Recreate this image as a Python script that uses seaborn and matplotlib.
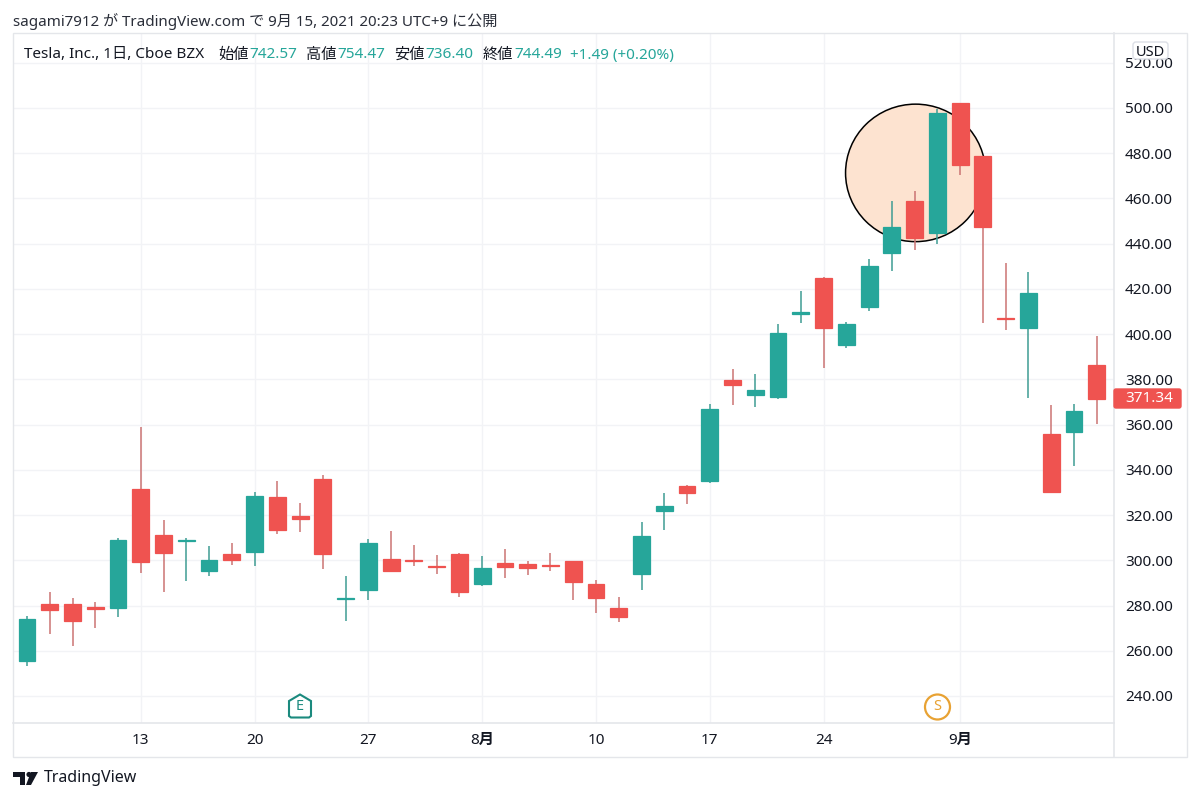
import matplotlib
matplotlib.use("Agg")
import matplotlib.pyplot as plt
from matplotlib.patches import Ellipse, FancyBboxPatch, Circle, Polygon, Rectangle
import numpy as np
import pandas as pd
import seaborn as sns

# Candles (one per trading day)
opens = [255.5, 280.8, 280.8, 279.4, 279.0, 331.7, 311.0, 308.5, 295.4, 302.7, 303.8, 327.9,
         319.8, 335.8, 283.0, 286.9, 300.7, 300.0, 297.5, 302.8, 289.7, 298.7, 298.4, 297.9,
         299.7, 289.4, 278.8, 294.0, 322.0, 332.9, 335.1, 379.6, 373.0, 372.3, 409.0, 425.0,
         395.0, 411.9, 435.8, 458.8, 444.6, 502.2, 478.6, 407.2, 402.8, 355.9, 356.8, 386.2]
highs = [275.4, 285.8, 283.5, 281.7, 309.7, 358.8, 317.8, 309.9, 306.2, 307.5, 330.2, 335.1,
         325.2, 337.8, 292.9, 309.4, 313.0, 306.9, 302.5, 303.4, 301.8, 305.2, 299.9, 303.4,
         299.9, 291.4, 283.8, 317.0, 329.9, 333.5, 369.2, 384.5, 382.2, 404.5, 419.0, 425.3,
         405.4, 433.1, 458.9, 463.4, 499.6, 502.4, 478.6, 431.5, 427.6, 368.7, 369.0, 399.0]
lows = [253.2, 267.3, 262.0, 270.2, 275.0, 294.2, 286.1, 291.0, 293.2, 298.0, 297.5, 311.5,
        312.4, 296.2, 273.2, 282.4, 294.7, 297.3, 294.1, 283.9, 288.6, 292.0, 293.5, 295.1,
        282.6, 276.8, 272.9, 286.7, 313.3, 324.9, 334.2, 368.7, 368.0, 371.1, 405.0, 385.0,
        393.9, 410.4, 428.1, 437.1, 439.9, 470.3, 404.8, 401.8, 371.9, 329.9, 341.5, 360.4]
closes = [274.0, 277.9, 273.0, 278.5, 308.8, 299.4, 303.2, 309.0, 300.0, 300.3, 328.5, 313.6,
          318.4, 302.7, 283.3, 307.8, 295.3, 299.6, 297.0, 286.0, 296.8, 297.2, 296.8, 297.5,
          290.3, 283.5, 274.8, 310.6, 323.9, 329.9, 367.0, 377.3, 375.5, 400.5, 409.8, 402.6,
          404.5, 430.3, 447.4, 442.6, 498.0, 475.0, 447.3, 406.9, 418.2, 330.1, 366.2, 371.5]

price_ticks = [240, 260, 280, 300, 320, 340, 360, 380, 400, 420, 440, 460, 480, 500, 520]
date_positions = [5, 10, 15, 20, 25, 30, 35, 41]
date_labels = ["13", "20", "27", "8月", "10", "17", "24", "9月"]
last_price = 371.34

UP = "#26a69a"
DOWN = "#ef5350"
UP_WICK = "#3f9c93"
DOWN_WICK = "#cb7473"
GRID = "#f2f3f6"
BORDER = "#e4e6ea"
TEXT = "#131722"

W, H = 1200, 800


def fx(px):
    return px / W


def fy(py):
    return 1 - py / H


sns.set_theme(style="white")
plt.rcParams["font.family"] = ["Noto Sans", "Noto Sans CJK JP", "DejaVu Sans"]

df = pd.DataFrame({"day": np.arange(len(opens)), "open": opens, "high": highs,
                   "low": lows, "close": closes})
df["bottom"] = df[["open", "close"]].min(axis=1)
df["body"] = (df["close"] - df["open"]).abs()
df["up"] = df["close"] > df["open"]

fig = plt.figure(figsize=(12, 8), dpi=100, facecolor="white")
ax = fig.add_axes([fx(13), fy(723), fx(1114 - 13), (723 - 33) / H])

# wicks then bodies
for is_up, colour, wick in [(True, UP, UP_WICK), (False, DOWN, DOWN_WICK)]:
    part = df[df["up"] == is_up]
    ax.vlines(part["day"], part["low"], part["high"], color=wick, lw=1.1, zorder=3)
    sns.barplot(data=part, x="day", y="body", bottom=part["bottom"].to_numpy(), native_scale=True,
                errorbar=None, color=colour, saturation=1, width=0.74, edgecolor=colour,
                linewidth=0.9, zorder=4, ax=ax)

# highlight circle behind the candles
ax.add_patch(Ellipse((39.04, 471.3), 6.15, 60.8, facecolor="#fde3d0", edgecolor="black",
                     lw=1.1, zorder=2))

ax.set_xlim(-0.615, 47.76)
ax.set_ylim(228.05, 533.16)
ax.set_xlabel("")
ax.set_ylabel("")
ax.set_xticks(date_positions)
ax.set_xticklabels(date_labels)
ax.set_yticks(price_ticks)
ax.set_yticklabels([f"{p:.2f}" for p in price_ticks])
ax.yaxis.tick_right()
ax.tick_params(axis="y", length=0, pad=8, labelsize=11, labelcolor=TEXT)
ax.tick_params(axis="x", length=0, pad=7, labelsize=11, labelcolor=TEXT)
for lab in ax.get_xticklabels():
    if "月" in lab.get_text():
        lab.set_fontweight("bold")
ax.grid(True, color=GRID, lw=1)
ax.set_axisbelow(True)
for s in ax.spines.values():
    s.set_color(BORDER)
    s.set_linewidth(1.2)
ax.spines["left"].set_visible(False)
ax.spines["top"].set_visible(False)

# outer frame of the chart
fig.add_artist(Rectangle((fx(13), fy(757)), fx(1187 - 13), (757 - 33) / H, fill=False,
                         edgecolor=BORDER, lw=1, transform=fig.transFigure, zorder=1))
fig.add_artist(plt.Line2D([fx(1114), fx(1114)], [fy(757), fy(723)], color=BORDER, lw=1.2))

# header
fig.text(fx(13), fy(21), "sagami7912 が TradingView.com で 9月 15, 2021 20:23 UTC+9 に公開",
         fontsize=10.9, color="#2a2e39", va="center")

# legend row
legend_row = [(24, "Tesla, Inc., 1日, Cboe BZX", TEXT), (218, "始値", TEXT), (249, "742.57", UP),
              (306, "高値", TEXT), (337.5, "754.47", UP), (394, "安値", TEXT), (425, "736.40", UP),
              (482.5, "終値", TEXT), (514, "744.49", UP), (570.5, "+1.49 (+0.20%)", UP)]
for px, label, colour in legend_row:
    fig.text(fx(px), fy(55), label, fontsize=11, color=colour, va="center")

# USD box sits over the 520 label
fig.add_artist(FancyBboxPatch((1133, 800 - 59), 35, 17, boxstyle="round,pad=0,rounding_size=3",
                              facecolor="white", edgecolor="#dcdfe6", lw=1,
                              transform=None, zorder=5))
fig.text(fx(1150.5), fy(52), "USD", fontsize=10.5, color=TEXT, ha="center", va="center", zorder=6)

# last price tag
fig.add_artist(FancyBboxPatch((1114, 800 - 408), 67, 19, boxstyle="round,pad=0,rounding_size=2",
                              facecolor=DOWN, edgecolor=DOWN, lw=1, transform=None, zorder=5))
fig.text(fx(1173), fy(399), f"{last_price:.2f}", fontsize=11, color="white", ha="right",
         va="center", zorder=6)

# earnings and split markers
house = [(289, 701), (300, 694.5), (311, 701), (311, 716), (309, 717.5), (291, 717.5), (289, 716)]
fig.add_artist(Polygon([(x, 800 - y) for x, y in house], closed=True, facecolor="white",
                       edgecolor="#1b8a7e", lw=1.5, transform=None, zorder=5))
fig.text(fx(300), fy(707), "E", fontsize=10.5, color="#1b8a7e", ha="center", va="center", zorder=6)
fig.add_artist(Circle((937.5, 800 - 707), 12.5, facecolor="white", edgecolor="#e8a233", lw=1.6,
                      transform=None, zorder=5))
fig.text(fx(937.5), fy(707), "S", fontsize=10.5, color="#e8a233", ha="center", va="center", zorder=6)

# TradingView logo
logo_parts = [[(13, 772), (25, 772), (25, 785), (20, 785), (20, 777), (13, 777)],
              [(31, 772), (38, 772), (31, 785), (26, 785)]]
for part in logo_parts:
    fig.add_artist(Polygon([(x, 800 - y) for x, y in part], closed=True, facecolor="#131722",
                           edgecolor="none", transform=None, zorder=5))
fig.add_artist(Circle((29, 800 - 774.5), 2.6, facecolor="#131722", edgecolor="none",
                      transform=None, zorder=5))
fig.text(fx(43.5), fy(778.5), "TradingView", fontsize=11.5, color="#131722", va="center")

fig.savefig("out.png", dpi=100, facecolor="white")
